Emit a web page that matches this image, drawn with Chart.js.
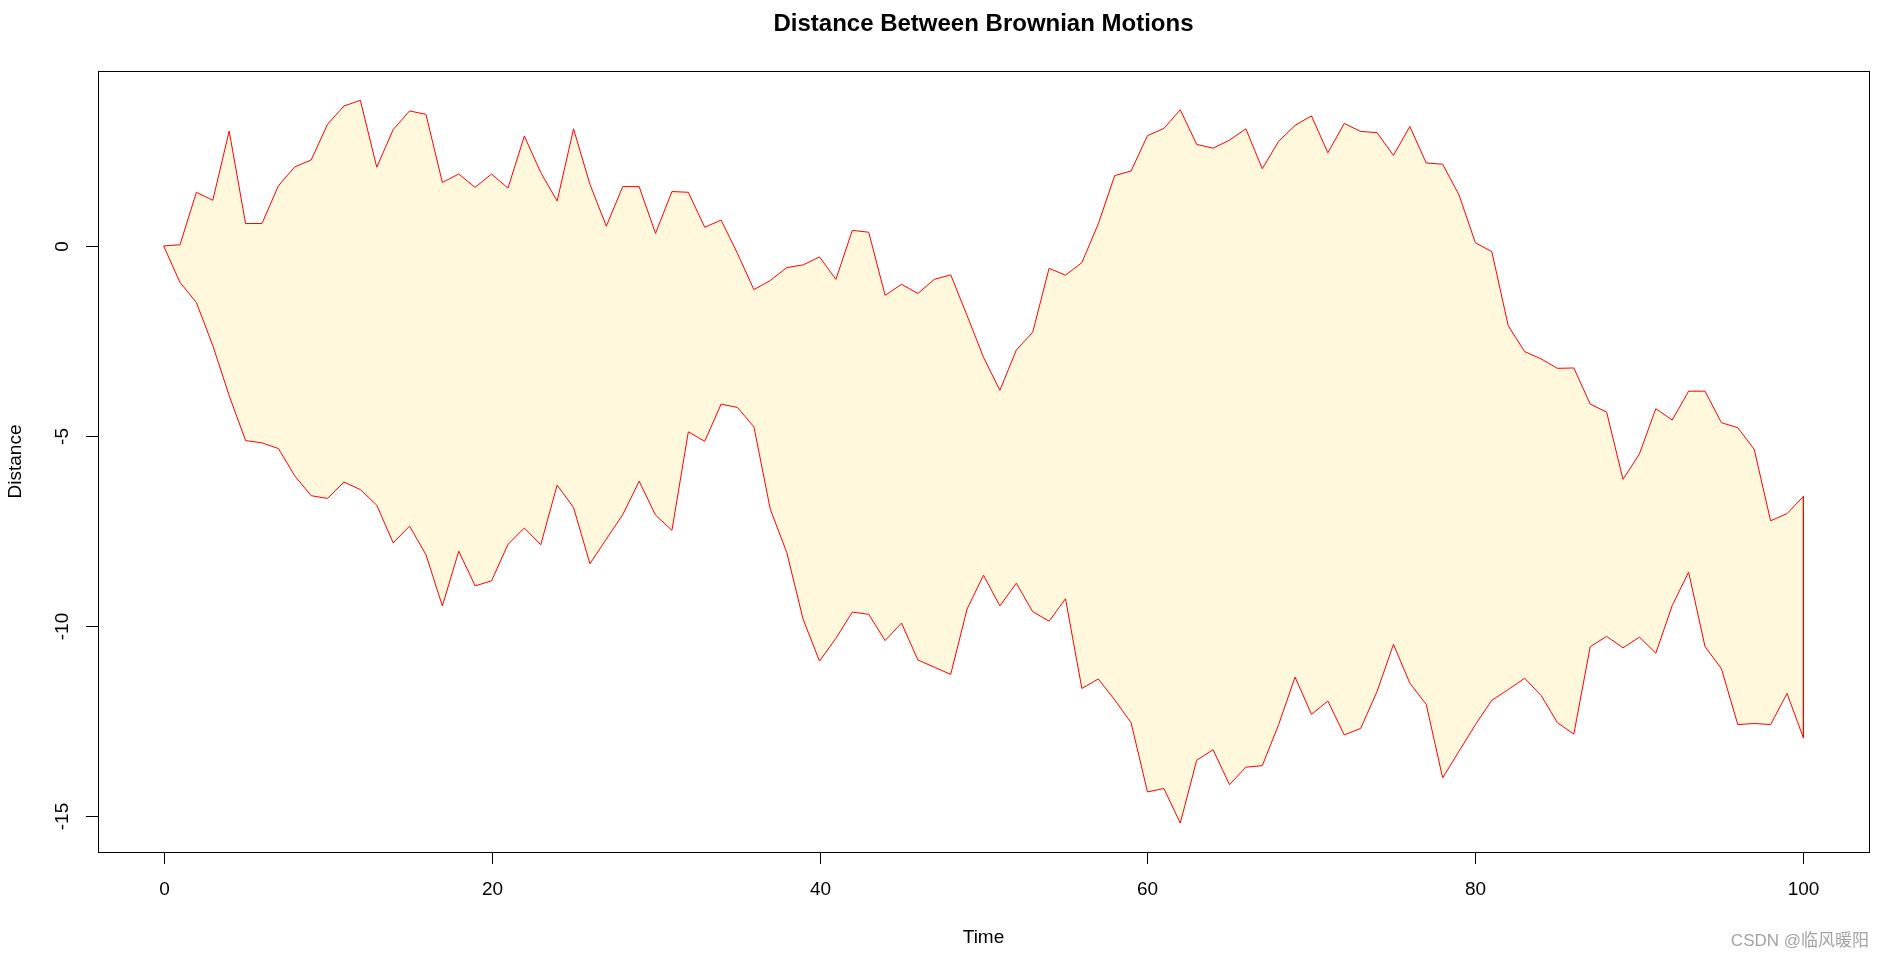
<!DOCTYPE html>
<html>
<head>
<meta charset="utf-8">
<title>Distance Between Brownian Motions</title>
<script src="https://cdn.jsdelivr.net/npm/chart.js@4.4.0/dist/chart.umd.min.js"></script>
<style>
  html, body { margin: 0; padding: 0; background: #fff; }
  #wrap { width: 1885px; height: 958px; }
</style>
</head>
<body>
<div id="wrap"><canvas id="brownChart" width="1885" height="958"></canvas></div>
<script>
// time steps and the two paths
const time = [
  0, 1, 2, 3, 4, 5, 6, 7, 8, 9, 10, 11, 12, 13, 14, 15, 16, 17, 18, 19,
  20, 21, 22, 23, 24, 25, 26, 27, 28, 29, 30, 31, 32, 33, 34, 35, 36, 37, 38, 39,
  40, 41, 42, 43, 44, 45, 46, 47, 48, 49, 50, 51, 52, 53, 54, 55, 56, 57, 58, 59,
  60, 61, 62, 63, 64, 65, 66, 67, 68, 69, 70, 71, 72, 73, 74, 75, 76, 77, 78, 79,
  80, 81, 82, 83, 84, 85, 86, 87, 88, 89, 90, 91, 92, 93, 94, 95, 96, 97, 98, 99, 100
];

const upperPath = [
  0, 0.03, 1.41, 1.20, 3.02, 0.59, 0.59, 1.58, 2.08, 2.26,
  3.20, 3.68, 3.83, 2.07, 3.06, 3.55, 3.46, 1.67, 1.89, 1.54,
  1.89, 1.52, 2.89, 1.93, 1.18, 3.08, 1.62, 0.52, 1.56, 1.56,
  0.33, 1.43, 1.41, 0.49, 0.68, -0.20, -1.15, -0.91, -0.57, -0.50,
  -0.29, -0.88, 0.41, 0.36, -1.30, -1.01, -1.25, -0.88, -0.76, -1.83,
  -2.93, -3.80, -2.74, -2.27, -0.59, -0.77, -0.44, 0.58, 1.85, 1.97,
  2.90, 3.09, 3.58, 2.67, 2.57, 2.78, 3.08, 2.03, 2.75, 3.17,
  3.42, 2.45, 3.22, 3.01, 2.98, 2.38, 3.14, 2.18, 2.15, 1.34,
  0.08, -0.15, -2.10, -2.78, -2.97, -3.22, -3.21, -4.16, -4.37, -6.14,
  -5.47, -4.28, -4.58, -3.82, -3.82, -4.65, -4.78, -5.35, -7.23, -7.04,
  -6.59
];

const lowerPath = [
  0, -0.96, -1.49, -2.62, -3.94, -5.12, -5.18, -5.33, -6.05, -6.57,
  -6.64, -6.21, -6.41, -6.82, -7.81, -7.37, -8.12, -9.47, -8.03, -8.94,
  -8.81, -7.85, -7.42, -7.86, -6.29, -6.88, -8.36, -7.71, -7.07, -6.19,
  -7.08, -7.48, -4.89, -5.14, -4.16, -4.25, -4.76, -6.93, -8.06, -9.82,
  -10.92, -10.32, -9.63, -9.69, -10.38, -9.92, -10.89, -11.08, -11.27, -9.55,
  -8.66, -9.47, -8.87, -9.62, -9.87, -9.28, -11.64, -11.39, -11.94, -12.54,
  -14.36, -14.27, -15.18, -13.53, -13.25, -14.17, -13.71, -13.67, -12.59, -11.34,
  -12.32, -11.97, -12.86, -12.69, -11.72, -10.48, -11.50, -12.06, -13.99, -13.29,
  -12.59, -11.95, -11.67, -11.37, -11.82, -12.54, -12.84, -10.54, -10.27, -10.57,
  -10.29, -10.71, -9.46, -8.58, -10.54, -11.12, -12.59, -12.56, -12.59, -11.77,
  -12.94
];

const xTicks = [0, 20, 40, 60, 80, 100];
const yTicks = [0, -5, -10, -15];

const FONT = '"Liberation Sans", Arial, sans-serif';
const last = time.length - 1;

// R-style frame, axes and labels drawn over the chart area
const rFrame = {
  id: 'rFrame',
  afterDraw(chart) {
    const { ctx, chartArea: a, scales: { x, y } } = chart;
    const W = chart.width;
    ctx.save();
    ctx.strokeStyle = '#000';
    ctx.lineWidth = 1;
    ctx.strokeRect(Math.round(a.left) + 0.5, Math.round(a.top) + 0.5,
      Math.round(a.right - a.left), Math.round(a.bottom - a.top));

    ctx.fillStyle = '#000';
    ctx.font = '19px ' + FONT;
    ctx.textAlign = 'center';
    ctx.textBaseline = 'middle';
    xTicks.forEach(v => {
      const px = Math.round(x.getPixelForValue(v)) + 0.5;
      ctx.beginPath();
      ctx.moveTo(px, a.bottom);
      ctx.lineTo(px, a.bottom + 12);
      ctx.stroke();
      ctx.fillText(String(v), px, a.bottom + 38);
    });
    yTicks.forEach(v => {
      const py = Math.round(y.getPixelForValue(v)) + 0.5;
      ctx.beginPath();
      ctx.moveTo(a.left - 12, py);
      ctx.lineTo(a.left, py);
      ctx.stroke();
      ctx.save();
      ctx.translate(a.left - 35, py);
      ctx.rotate(-Math.PI / 2);
      ctx.fillText(String(v), 0, 0);
      ctx.restore();
    });

    ctx.fillText('Time', (a.left + a.right) / 2, 938);
    ctx.save();
    ctx.translate(16, (a.top + a.bottom) / 2);
    ctx.rotate(-Math.PI / 2);
    ctx.fillText('Distance', 0, 0);
    ctx.restore();

    ctx.font = 'bold 24px ' + FONT;
    ctx.fillText('Distance Between Brownian Motions', (a.left + a.right) / 2, 24);

    ctx.font = '17px ' + FONT + ', "Noto Sans CJK SC"';
    ctx.fillStyle = '#a3a3a3';
    ctx.textAlign = 'right';
    ctx.fillText('CSDN @临风暖阳', W - 16, 941);
    ctx.restore();
  }
};

const ctx = document.getElementById('brownChart').getContext('2d');
const brownChart = new Chart(ctx, {
  type: 'line',
  data: {
    datasets: [{
      label: 'upper',
      data: time.map((t, i) => ({ x: t, y: upperPath[i] })),
      borderColor: '#ff0000',
      borderWidth: 1,
      backgroundColor: 'cornsilk',
      fill: '+1',
      pointRadius: 0,
      tension: 0
    }, {
      label: 'lower',
      data: time.map((t, i) => ({ x: t, y: lowerPath[i] })),
      borderColor: '#ff0000',
      borderWidth: 1,
      fill: false,
      pointRadius: 0,
      tension: 0
    }, {
      label: 'edge',
      data: [{ x: time[last], y: upperPath[last] }, { x: time[last], y: lowerPath[last] }],
      borderColor: '#ff0000',
      borderWidth: 1,
      fill: false,
      pointRadius: 0
    }]
  },
  options: {
    responsive: false,
    animation: false,
    devicePixelRatio: 1,
    layout: { padding: { left: 98, right: 16, top: 71, bottom: 106 } },
    scales: {
      x: { type: 'linear', display: false, min: -4, max: 104 },
      y: { type: 'linear', display: false, min: -15.94, max: 4.6 }
    },
    plugins: {
      legend: { display: false },
      tooltip: { enabled: false },
      filler: { drawTime: 'beforeDatasetsDraw' }
    }
  },
  plugins: [rFrame]
});
</script>
</body>
</html>
